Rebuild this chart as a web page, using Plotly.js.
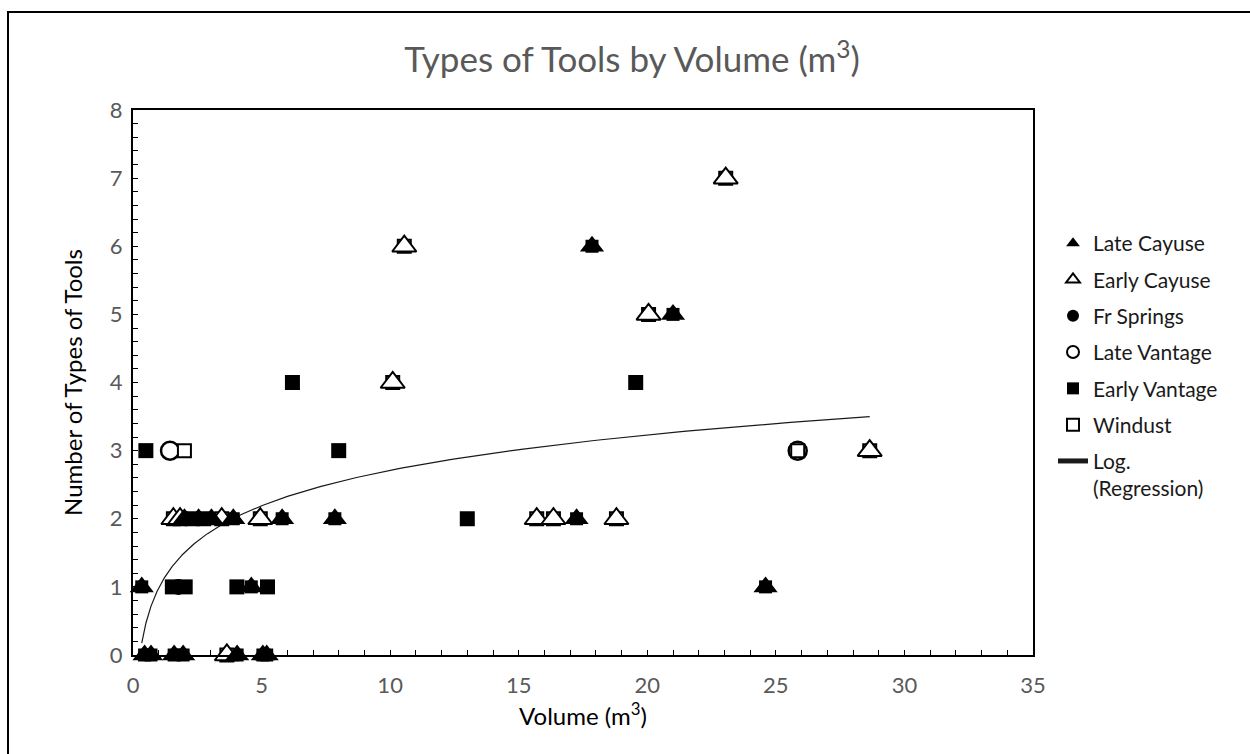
<!DOCTYPE html>
<html>
<head>
<meta charset="utf-8">
<script src="https://cdn.plot.ly/plotly-3.0.1.min.js"></script>
<style>
  html, body { margin: 0; padding: 0; background: #fff; overflow: hidden; }
  #wrap { position: relative; width: 1250px; height: 754px; }
  #chart { position: absolute; left: 0; top: 0; width: 1250px; height: 754px; }
  .bl { position: absolute; left: 7px; top: 11px; width: 2px; height: 760px; background: #000; }
  .bt { position: absolute; left: 7px; top: 11px; width: 1250px; height: 2px; background: #000; }
</style>
</head>
<body>
<div id="wrap">
  <div id="chart"></div>
  <div class="bl"></div>
  <div class="bt"></div>
</div>
<script>
// ---- data ----
const lateCayuseX = [0.45, 0.7, 1.6, 1.95, 4.05, 5.05, 5.2, 0.34, 4.6, 24.6, 2.0, 2.55, 3.05, 3.9, 5.8, 7.85, 17.25, 21.0, 17.85];
const lateCayuseY = [0, 0, 0, 0, 0, 0, 0, 1, 1, 1, 2, 2, 2, 2, 2, 2, 2, 5, 6];

const earlyCayuseX = [3.65, 1.57, 1.83, 3.45, 4.95, 15.7, 16.35, 18.8, 28.65, 10.1, 20.05, 10.55, 23.05];
const earlyCayuseY = [0, 2, 2, 2, 2, 2, 2, 2, 3, 4, 5, 6, 7];

const frSpringsX = [1.76];
const frSpringsY = [1];

const lateVantageX = [1.44, 25.85];
const lateVantageY = [3, 3];

const earlyVantageX = [0.5, 8.0, 6.2, 19.55, 13.0, 1.53, 2.03, 4.04, 5.23, 2.3, 2.75];
const earlyVantageY = [3, 3, 4, 4, 2, 1, 1, 1, 1, 2, 2];

const windustX = [2.0, 25.85];
const windustY = [3, 3];

const xTickVals = [0, 5, 10, 15, 20, 25, 30, 35];
const yTickVals = [0, 1, 2, 3, 4, 5, 6, 7, 8];

// ---- logarithmic regression over all points ----
const allX = [].concat(lateCayuseX, earlyCayuseX, frSpringsX, lateVantageX, earlyVantageX, windustX);
const allY = [].concat(lateCayuseY, earlyCayuseY, frSpringsY, lateVantageY, earlyVantageY, windustY);
let n = allX.length, sL = 0, sY = 0, sLY = 0, sLL = 0;
for (let i = 0; i < n; i++) {
  const l = Math.log(allX[i]);
  sL += l; sY += allY[i]; sLY += l * allY[i]; sLL += l * l;
}
const slope = (n * sLY - sL * sY) / (n * sLL - sL * sL);
const intercept = (sY - slope * sL) / n;
const xmin = Math.min.apply(null, allX), xmax = Math.max.apply(null, allX);
const trendX = [], trendY = [];
for (let i = 0; i <= 300; i++) {
  const x = xmin * Math.pow(xmax / xmin, i / 300);
  trendX.push(x);
  trendY.push(slope * Math.log(x) + intercept);
}

const BLACK = '#000000';
const traces = [
  { x: trendX, y: trendY, mode: 'lines', name: 'Log.<br>(Regression)', legendgroup: 'g7', legendrank: 7,
    line: { color: '#1a1a1a', width: 1.2 }, hoverinfo: 'skip', cliponaxis: true },
  // square bodies under triangles
  { x: lateCayuseX, y: lateCayuseY, mode: 'markers', showlegend: false, legendgroup: 'g1', hoverinfo: 'skip',
    marker: { symbol: 'square', size: 13, color: BLACK }, cliponaxis: false },
  { x: earlyCayuseX, y: earlyCayuseY, mode: 'markers', showlegend: false, legendgroup: 'g2', hoverinfo: 'skip',
    marker: { symbol: 'square', size: 13, color: '#ffffff', line: { color: BLACK, width: 2 } }, cliponaxis: false },
  { x: earlyVantageX, y: earlyVantageY, mode: 'markers', name: 'Early Vantage', legendgroup: 'g5', legendrank: 5,
    marker: { symbol: 'square', size: 15, color: BLACK }, cliponaxis: false },
  { x: frSpringsX, y: frSpringsY, mode: 'markers', name: 'Fr Springs', legendgroup: 'g3', legendrank: 3,
    marker: { symbol: 'circle', size: 16, color: BLACK }, cliponaxis: false },
  { x: earlyCayuseX, y: earlyCayuseY, mode: 'markers', name: 'Early Cayuse', legendgroup: 'g2', legendrank: 2,
    marker: { symbol: 'triangle-up', size: 21, color: '#ffffff', line: { color: BLACK, width: 2 } }, cliponaxis: false },
  { x: lateCayuseX, y: lateCayuseY, mode: 'markers', name: 'Late Cayuse', legendgroup: 'g1', legendrank: 1,
    marker: { symbol: 'triangle-up', size: 21, color: BLACK }, cliponaxis: false },
  { x: lateVantageX, y: lateVantageY, mode: 'markers', name: 'Late Vantage', legendgroup: 'g4', legendrank: 4,
    marker: { symbol: 'circle-open', size: 18, color: BLACK, line: { color: BLACK, width: 2.5 } }, cliponaxis: false },
  { x: windustX, y: windustY, mode: 'markers', name: 'Windust', legendgroup: 'g6', legendrank: 6,
    marker: { symbol: 'square', size: 13, color: '#ffffff', line: { color: BLACK, width: 2 } }, cliponaxis: false }
];

const axisCommon = {
  showgrid: false, zeroline: false, showline: true, linecolor: BLACK, linewidth: 2, mirror: true,
  ticks: 'inside', ticklen: 5, tickwidth: 1, tickcolor: BLACK,
  tickfont: { family: 'Lato, sans-serif', size: 22, color: '#595959' }, fixedrange: true
};

const layout = {
  width: 1250, height: 754,
  margin: { l: 133, r: 217, t: 110, b: 99 },
  paper_bgcolor: '#ffffff', plot_bgcolor: '#ffffff',
  font: { family: 'Lato, sans-serif', color: '#000' },
  title: { text: 'Types of Tools by Volume (m<sup>3</sup>)', font: { size: 35, color: '#595959' },
           xref: 'container', x: 632 / 1250, xanchor: 'center', yref: 'container', y: 1 - 60 / 754, yanchor: 'middle' },
  xaxis: Object.assign({}, axisCommon, {
    range: [0, 35], tickmode: 'array', tickvals: xTickVals, ticklabelstandoff: 10,
    minor: { dtick: 1, tick0: 0, ticks: 'inside', ticklen: 5, tickcolor: BLACK, tickwidth: 1 },
    title: { text: 'Volume (m<sup>3</sup>)', font: { size: 24, color: '#000' }, standoff: 11 }
  }),
  yaxis: Object.assign({}, axisCommon, {
    range: [0, 8], tickmode: 'array', tickvals: yTickVals, ticklabelstandoff: 4,
    minor: { dtick: 0.2, tick0: 0, ticks: 'inside', ticklen: 5, tickcolor: BLACK, tickwidth: 1 },
    title: { text: 'Number of Types of Tools', font: { size: 24, color: '#000' }, standoff: 20 }
  }),
  legend: {
    xref: 'container', yref: 'container', x: 1053 / 1250, y: 1 - 223 / 754, xanchor: 'left', yanchor: 'top',
    font: { size: 21, color: '#1a1a1a' }, tracegroupgap: 6, itemsizing: 'constant', traceorder: 'grouped',
    bgcolor: 'rgba(0,0,0,0)', valign: 'top'
  },
  showlegend: true
};

Plotly.newPlot('chart', traces, layout, { displayModeBar: false, staticPlot: true });
</script>
</body>
</html>
